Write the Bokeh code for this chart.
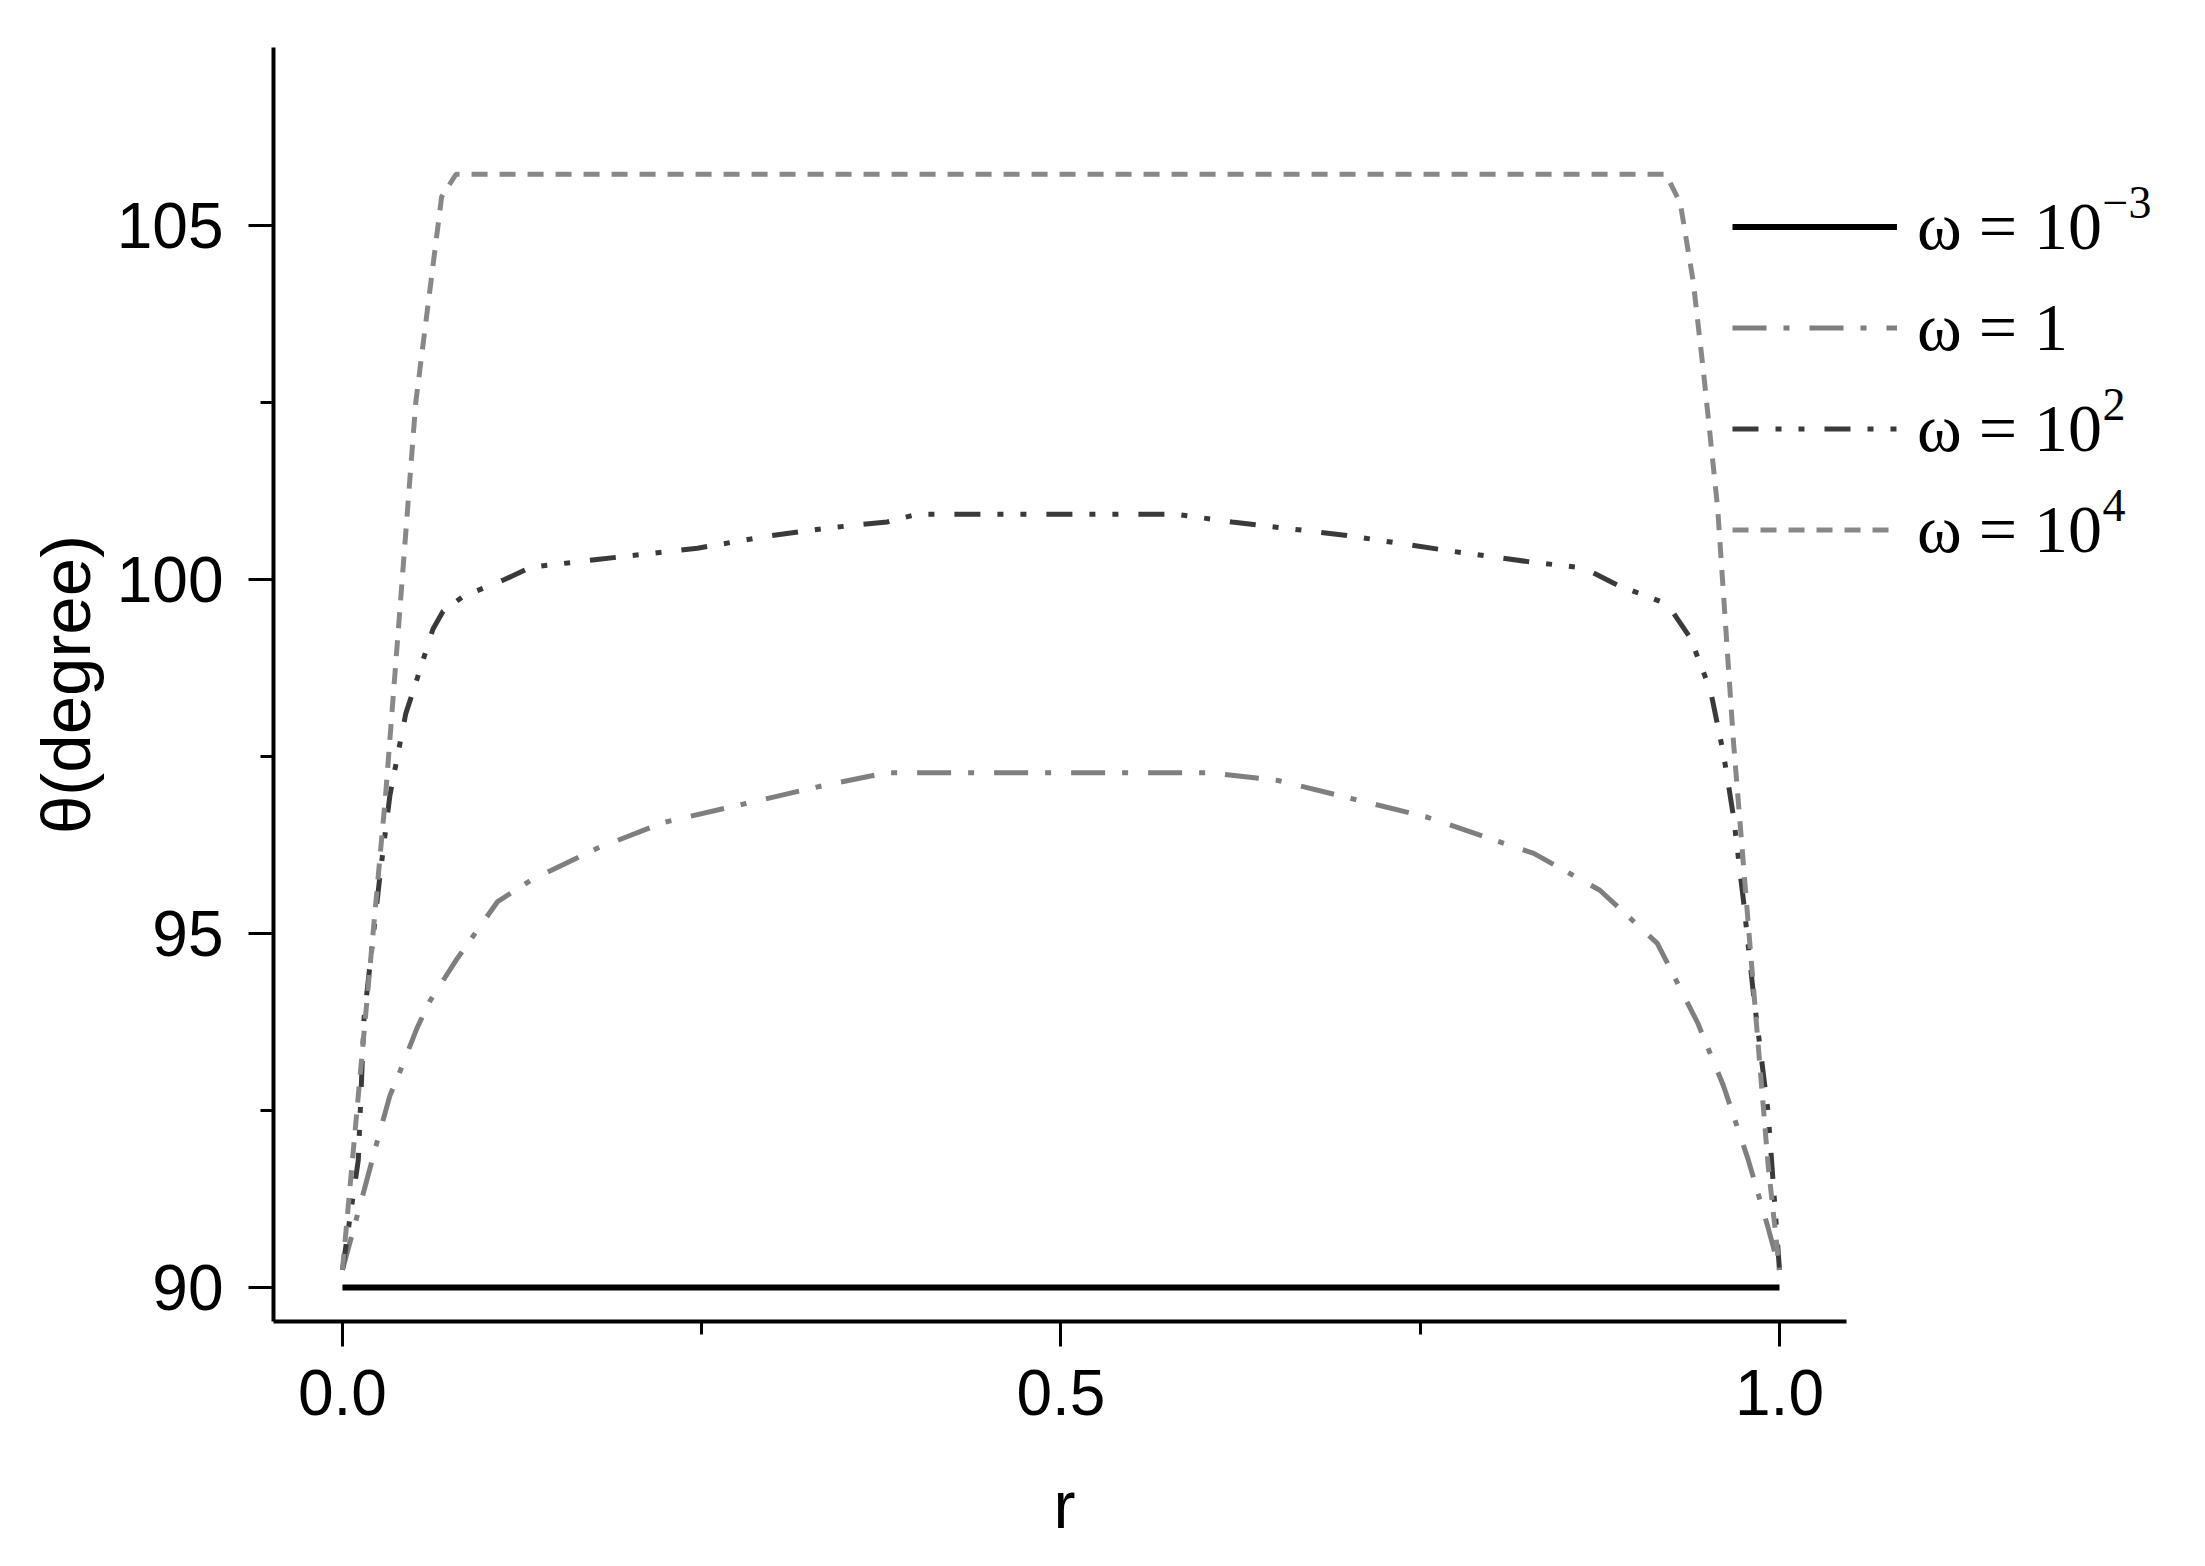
from bokeh.plotting import figure
from bokeh.models import Range1d, FixedTicker, NumeralTickFormatter, Legend, LegendItem, Label
from bokeh.embed import file_html
from bokeh.resources import INLINE

# ---- data ----
r_w3 = [0.0, 1.0]
t_w3 = [90.0, 90.0]

r_w1 = [0.0, 0.015, 0.024, 0.033, 0.040, 0.052, 0.061, 0.080, 0.108, 0.131, 0.177, 0.224,
        0.282, 0.335, 0.379, 0.603, 0.651, 0.755, 0.829, 0.875, 0.915, 0.943, 0.961, 0.978,
        0.992, 1.0]
t_w1 = [90.25, 91.37, 92.05, 92.71, 93.05, 93.67, 94.05, 94.65, 95.45, 95.75, 96.2, 96.57,
        96.84, 97.09, 97.27, 97.27, 97.16, 96.64, 96.13, 95.61, 94.86, 93.74, 92.85, 91.82,
        90.85, 90.25]

r_w2 = [0.0, 0.011, 0.015, 0.026, 0.033, 0.044, 0.052, 0.063, 0.070, 0.084, 0.112, 0.131,
        0.177, 0.247, 0.299, 0.34, 0.379, 0.40, 0.58, 0.619, 0.699, 0.771, 0.825, 0.864,
        0.887, 0.922, 0.938, 0.952, 0.961, 0.968, 0.975, 0.982, 0.992, 1.0]
t_w2 = [90.25, 91.8, 93.8, 95.8, 96.95, 98.1, 98.6, 99.3, 99.55, 99.76, 99.99, 100.17,
        100.28, 100.44, 100.62, 100.73, 100.81, 100.92, 100.92, 100.81, 100.62, 100.40, 100.25, 100.16,
        99.92, 99.65, 99.17, 98.43, 97.54, 96.65, 95.45, 94.12, 92.49, 90.25]

r_w4 = [0.0, 0.03, 0.041, 0.051, 0.069, 0.079, 0.921, 0.931, 0.940, 0.947, 0.957, 0.968,
        0.980, 0.992, 1.0]
t_w4 = [90.25, 96.95, 99.85, 102.5, 105.4, 105.72, 105.72, 105.31, 104.2, 102.95, 101.0, 97.7,
        94.7, 91.75, 90.25]

legend_base = ["ω = 10", "ω = 1", "ω = 10", "ω = 10"]
legend_exp = ["−3", "", "2", "4"]
x_ticks = [0.0, 0.5, 1.0]
x_minor = [0.25, 0.75]
y_ticks = [90, 95, 100, 105]
y_minor = [92.5, 97.5, 102.5]

X_START, X_AXIS_END = -0.048, 1.0466
FRAME_H = 1274
LEG_BOTTOM = 741
ROW_H = 101

p = figure(frame_width=1922, frame_height=FRAME_H,
           x_range=Range1d(X_START, 1.2895), y_range=Range1d(89.52, 107.51),
           output_backend="svg", toolbar_location=None,
           min_border_left=273, min_border_right=5, min_border_top=47, min_border_bottom=200)
p.outline_line_color = None
p.xgrid.visible = False
p.ygrid.visible = False
p.background_fill_color = "white"

r1 = p.line(r_w3, t_w3, line_color="black", line_width=6)
r2 = p.line(r_w1, t_w1, line_color="#7f7f7f", line_width=5, line_dash="34 17 6 20")
r3 = p.line(r_w2, t_w2, line_color="#3a3a3a", line_width=5, line_dash="26 17 6 17 6 20")
r4 = p.line(r_w4, t_w4, line_color="#888888", line_width=5, line_dash="16 12")

for ax in (p.xaxis[0], p.yaxis[0]):
    ax.axis_line_width = 4
    ax.axis_line_color = "black"
    ax.major_tick_line_width = 3
    ax.minor_tick_line_width = 3
    ax.major_tick_line_color = "black"
    ax.minor_tick_line_color = "black"
    ax.major_tick_in = 0
    ax.major_tick_out = 25
    ax.minor_tick_in = 0
    ax.minor_tick_out = 13
    ax.major_label_text_font = "Liberation Sans"
    ax.major_label_text_font_size = "64px"
    ax.major_label_text_color = "black"
    ax.axis_label_text_font = "Liberation Sans"
    ax.axis_label_text_font_size = "69px"
    ax.axis_label_text_font_style = "normal"
    ax.axis_label_text_color = "black"

p.xaxis.bounds = (X_START, X_AXIS_END)
p.xaxis.ticker = FixedTicker(ticks=x_ticks, minor_ticks=x_minor)
p.yaxis.ticker = FixedTicker(ticks=y_ticks, minor_ticks=y_minor)
p.xaxis.formatter = NumeralTickFormatter(format="0.0")
p.yaxis.axis_label = "θ(degree)"
p.xaxis.major_label_standoff = 23
p.yaxis.major_label_standoff = 25
p.yaxis.axis_label_standoff = 9

# x-axis title "r", centred under the visible axis (x = 0.5)
p.title.text = "r"
p.title_location = "below"
p.title.align = "left"
p.title.offset = 780
p.title.vertical_align = "top"
p.title.standoff = 100
p.title.text_font = "Liberation Sans"
p.title.text_font_size = "66px"
p.title.text_font_style = "normal"
p.title.text_color = "black"

items = [LegendItem(label=legend_base[i], renderers=[rr])
         for i, rr in enumerate([r1, r2, r3, r4])]
legend = Legend(items=items, location=(1459, LEG_BOTTOM), orientation="vertical",
                glyph_width=165, glyph_height=ROW_H, label_height=ROW_H, spacing=0,
                padding=0, margin=0, label_standoff=20,
                label_text_font="Liberation Serif", label_text_font_size="68px",
                label_text_color="black",
                border_line_color=None, background_fill_alpha=0)
p.add_layout(legend, "center")

# superscript exponents of the legend labels (screen y measured upward from frame bottom)
leg_top = LEG_BOTTOM + ROW_H * len(legend_base)
for i, e in enumerate(legend_exp):
    if not e:
        continue
    p.add_layout(Label(x=1829, y=leg_top - ROW_H / 2 - ROW_H * i + 25,
                       x_units="screen", y_units="screen",
                       text=e, text_font="Liberation Serif", text_font_size="46px",
                       text_color="black", text_baseline="alphabetic", text_align="left"))

open("out.html", "w").write(file_html(p, INLINE))
